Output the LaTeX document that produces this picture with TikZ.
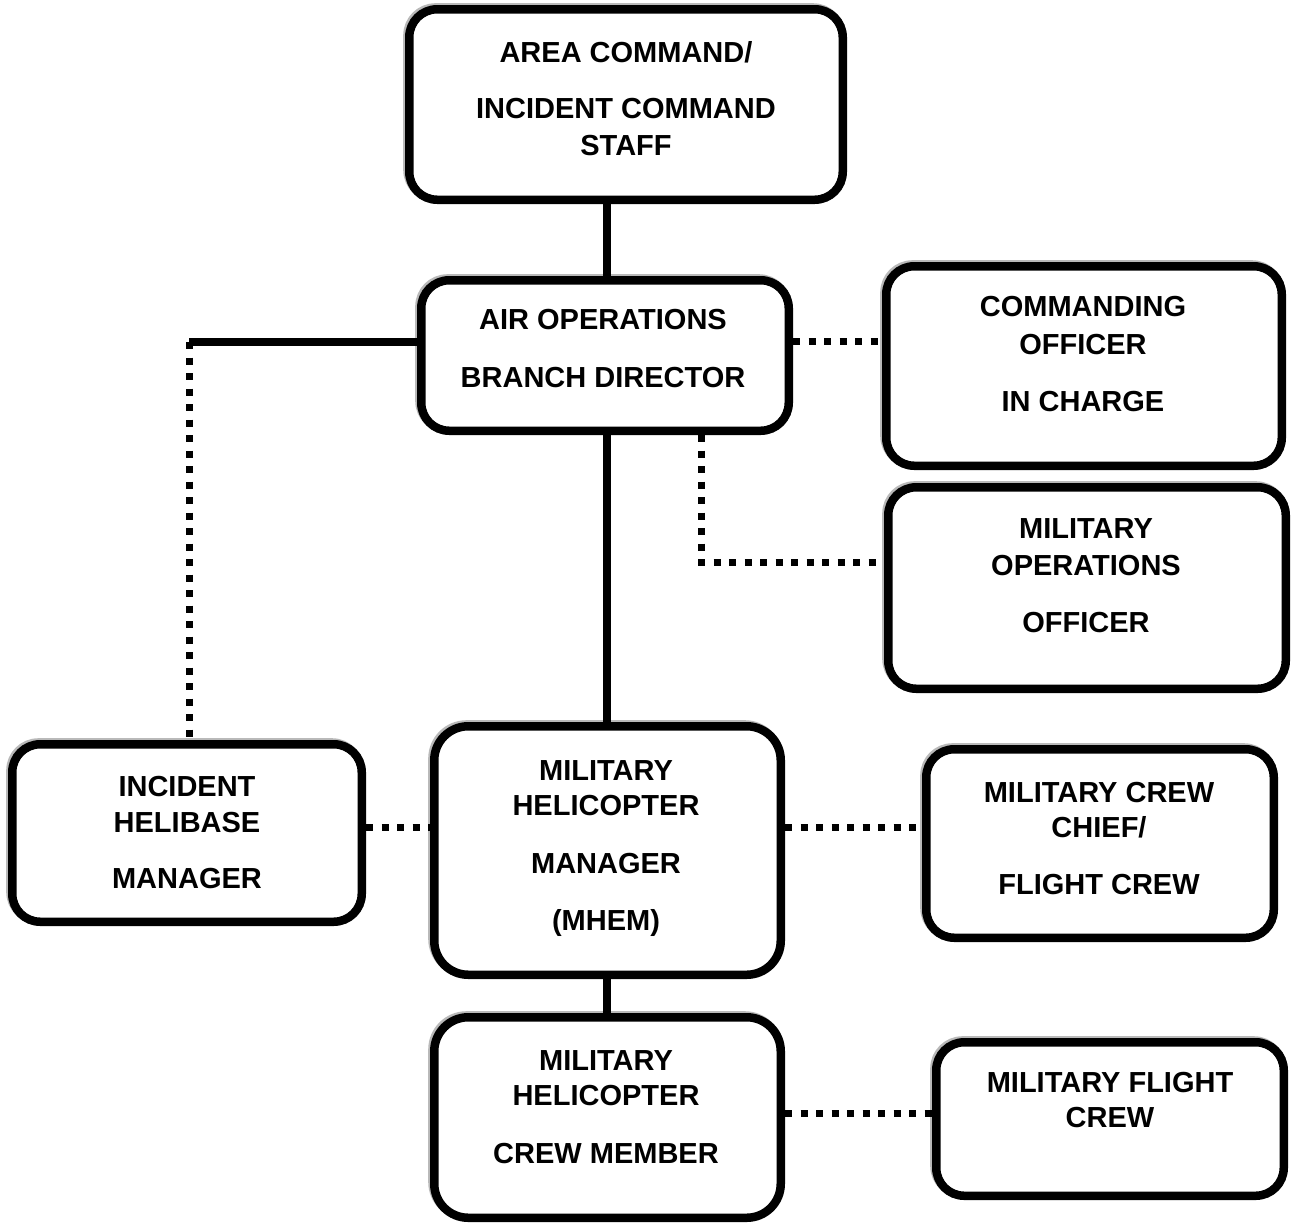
\documentclass[tikz,border=0pt]{standalone}
\usepackage{fontspec}
\setmainfont{Liberation Sans}
\newcommand\tline[4]{\node[txt] (#1) at (#2,#3) {#4};}
\begin{document}
\begin{tikzpicture}[x=1pt,y=-1pt,
  box/.style={draw=black, line width=8.5pt, fill=white, rounded corners=28pt, inner sep=0pt,
    preaction={draw=gray!55, line width=8.5pt, transform canvas={shift={(-1.8pt,1.8pt)}}}},
  bigbox/.style={box, rounded corners=34pt},
  txt/.style={anchor=base, inner sep=0pt, font=\fontsize{29}{35}\selectfont\bfseries},
  solidline/.style={line width=7.5pt},
  dotline/.style={line width=7pt, dash pattern=on 7pt off 8.5pt}]
\fill[white] (0,0) rectangle (1292,1224);
\useasboundingbox (0,0) rectangle (1292,1224);

% boxes
\node[box, minimum width=433.5pt, minimum height=190.5pt] (top) at (626,104.5) {};
\node[box, minimum width=367.5pt, minimum height=150.5pt] (aobd) at (605,355.5) {};
\node[box, minimum width=395.5pt, minimum height=199.5pt] (co) at (1084,366) {};
\node[box, minimum width=397.5pt, minimum height=201.5pt] (moo) at (1087,588) {};
\node[box, minimum width=349.5pt, minimum height=177.5pt] (ihm) at (187,833) {};
\node[bigbox, minimum width=346.5pt, minimum height=248.5pt] (mhem) at (607.5,850.5) {};
\node[box, minimum width=347.5pt, minimum height=188.5pt] (chief) at (1100,843.5) {};
\node[bigbox, minimum width=346.5pt, minimum height=200.5pt] (member) at (607.5,1117.5) {};
\node[box, minimum width=347.5pt, minimum height=153.5pt] (flight) at (1110,1119) {};

% texts
\tline{top1}{626}{62}{AREA COMMAND/}
\tline{top2}{626}{118}{INCIDENT COMMAND}
\tline{top3}{626}{155}{STAFF}
\tline{aobd1}{603}{329}{AIR OPERATIONS}
\tline{aobd2}{603}{387}{BRANCH DIRECTOR}
\tline{co1}{1083}{316}{COMMANDING}
\tline{co2}{1083}{354}{OFFICER}
\tline{co3}{1083}{411}{IN CHARGE}
\tline{moo1}{1086}{538}{MILITARY}
\tline{moo2}{1086}{575}{OPERATIONS}
\tline{moo3}{1086}{632}{OFFICER}
\tline{ihm1}{187}{796}{INCIDENT}
\tline{ihm2}{187}{832}{HELIBASE}
\tline{ihm3}{187}{888}{MANAGER}
\tline{mhem1}{606}{780}{MILITARY}
\tline{mhem2}{606}{815}{HELICOPTER}
\tline{mhem3}{606}{873}{MANAGER}
\tline{mhem4}{606}{930}{(MHEM)}
\tline{chief1}{1099}{802}{MILITARY CREW}
\tline{chief2}{1099}{837}{CHIEF/}
\tline{chief3}{1099}{894}{FLIGHT CREW}
\tline{member1}{606}{1070}{MILITARY}
\tline{member2}{606}{1105}{HELICOPTER}
\tline{member3}{606}{1163}{CREW MEMBER}
\tline{flight1}{1110}{1092}{MILITARY FLIGHT}
\tline{flight2}{1110}{1127}{CREW}

% helper coordinates
\coordinate (vx) at (607,0);
\coordinate (hl) at (189,342);
\coordinate (hr) at (0,341);
\coordinate (dv) at (701,562);
\coordinate (hm) at (0,827);
\coordinate (hb) at (0,1113);

% solid connectors
\draw[solidline] (vx |- top.south) -- (vx |- aobd.north);
\draw[solidline] (vx |- aobd.south) -- (vx |- mhem.north);
\draw[solidline] (vx |- mhem.south) -- (vx |- member.north);
\draw[solidline] (aobd.west |- hl) -- (hl);

% dotted connectors
\draw[dotline] (hl) -- (hl |- ihm.north);
\draw[dotline] (aobd.east |- hr) -- (co.west |- hr);
\draw[dotline] (dv |- aobd.south) -- (dv) -- (moo.west |- dv);
\draw[dotline] (ihm.east |- hm) -- (mhem.west |- hm);
\draw[dotline] (mhem.east |- hm) -- (chief.west |- hm);
\draw[dotline] (member.east |- hb) -- (flight.west |- hb);
\end{tikzpicture}
\end{document}
